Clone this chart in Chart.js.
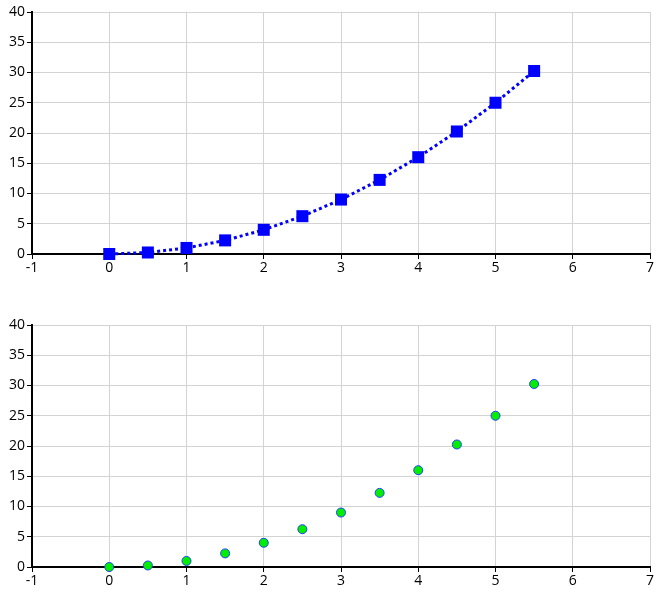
<!DOCTYPE html>
<html>
<head>
<meta charset="utf-8">
<script src="https://cdn.jsdelivr.net/npm/chart.js@4"></script>
<style>
  html, body { margin: 0; padding: 0; background: #fff; }
  .box { position: absolute; left: 0; width: 664px; height: 298px; }
</style>
</head>
<body>
<div class="box" style="top:0"><canvas id="chartTop"></canvas></div>
<div class="box" style="top:313px"><canvas id="chartBottom"></canvas></div>
<script>
const xValues = [0, 0.5, 1, 1.5, 2, 2.5, 3, 3.5, 4, 4.5, 5, 5.5];
const yValues = [0, 0.25, 1, 2.25, 4, 6.25, 9, 12.25, 16, 20.25, 25, 30.25];
const xRange = [-1, 7];
const yRange = [0, 40];

function makeScales() {
    return {
        x: {
            type: 'linear',
            min: xRange[0], max: xRange[1],
            ticks: { stepSize: 1, color: '#000', font: { family: 'Open Sans', size: 14 }, padding: 1 },
            grid: { color: '#d3d3d3', tickColor: '#000', tickLength: 5, lineWidth: 1 },
            border: { color: '#000', width: 2 },
            afterFit: (s) => { s.height = 44; }
        },
        y: {
            min: yRange[0], max: yRange[1],
            ticks: { stepSize: 5, color: '#000', font: { family: 'Open Sans', size: 14 }, padding: 2 },
            grid: { color: '#d3d3d3', tickColor: '#000', tickLength: 5, lineWidth: 1 },
            border: { color: '#000', width: 2 },
            afterFit: (s) => { s.width = 32; }
        }
    };
}

const points = xValues.map((x, i) => ({ x: x, y: yValues[i] }));

const common = {
    responsive: true,
    maintainAspectRatio: false,
    animation: false,
    layout: { padding: { top: 12, right: 14, left: 0, bottom: 0 } },
    plugins: { legend: { display: false }, tooltip: { enabled: false } }
};

new Chart(document.getElementById('chartTop'), {
    type: 'scatter',
    data: {
        datasets: [{
            data: points,
            clip: false,
            showLine: true,
            borderColor: '#0000ff',
            borderWidth: 3,
            borderDash: [3, 3],
            backgroundColor: '#0000ff',
            pointStyle: 'rect',
            pointRadius: 8.5,
            pointBorderWidth: 0
        }]
    },
    options: Object.assign({}, common, { scales: makeScales() })
});

new Chart(document.getElementById('chartBottom'), {
    type: 'scatter',
    data: {
        datasets: [{
            data: points,
            clip: false,
            showLine: false,
            borderColor: '#2040ff',
            borderWidth: 1,
            backgroundColor: '#00ee00',
            pointRadius: 4.5
        }]
    },
    options: Object.assign({}, common, { scales: makeScales() })
});
</script>
</body>
</html>
